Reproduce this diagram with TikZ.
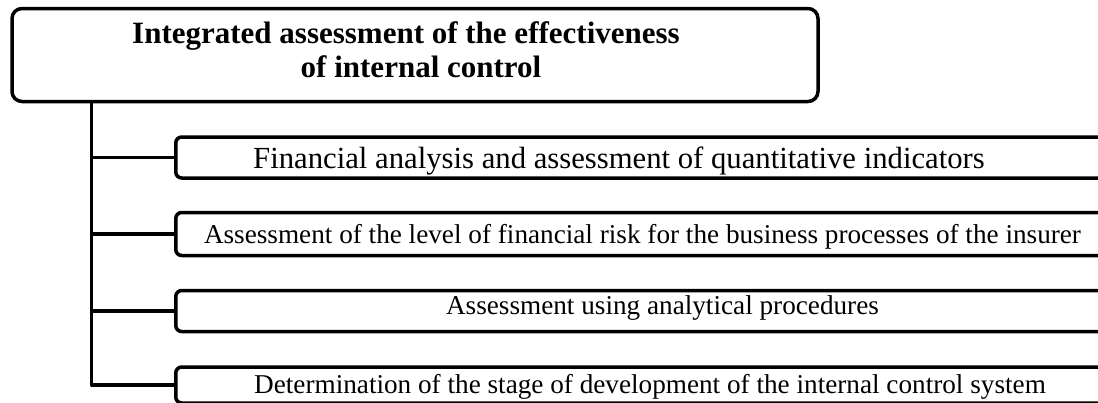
\documentclass[tikz,border=0pt]{standalone}
\usepackage{fontspec}
\setmainfont{Liberation Serif}
\usetikzlibrary{positioning, calc}
\tikzstyle{headbox}=[
  draw,
  line width=3.5pt,
  rounded corners=10pt,
  minimum width=806pt,
  minimum height=93pt,
  inner sep=0pt
]
\tikzstyle{itembox}=[
  draw,
  line width=3.5pt,
  rounded corners=6pt,
  anchor=west,
  minimum width=960pt,
  inner sep=0pt
]
\tikzstyle{headtext}=[
  anchor=base,
  align=center,
  inner sep=0pt,
  font={\bfseries\fontsize{31}{34}\selectfont}
]
\tikzstyle{itemtext}=[
  anchor=base,
  inner sep=0pt,
  font={\fontsize{27.2}{31}\selectfont}
]
\tikzstyle{conn}=[line width=3.5pt, line join=round]

\begin{document}
\begin{tikzpicture}[x=1pt, y=-1pt]

\useasboundingbox (0,0) rectangle (1098,402);
\clip (0,0) rectangle (1098,402);

%% main box
\node[headbox] (head) at (415,55) {};
\node[headtext] (headtxt) at (406,77) {Integrated assessment of the effectiveness\\\hspace*{30pt}of internal control};

%% the four ways
\node[itembox, minimum height=41pt] (fin)   at (174,157.5) {};
\node[itembox, minimum height=43pt] (risk)  at (174,234) {};
\node[itembox, minimum height=41pt] (proc)  at (174,311) {};
\node[itembox, minimum height=36pt] (stage) at (174,385) {};

\node[itemtext, font={\fontsize{30.7}{35}\selectfont}] (fintxt) at (619,168) {Financial analysis and assessment of quantitative indicators};
\node[itemtext] (risktxt)  at (642.5,243) {Assessment of the level of financial risk for the business processes of the insurer};
\node[itemtext] (proctxt)  at (662.5,314) {Assessment using analytical procedures};
\node[itemtext] (stagetxt) at (650,393) {Determination of the stage of development of the internal control system};

%% tree lines
\coordinate (trunk) at (91.5,0);
\draw[conn] (head.south -| trunk) |- (stage.west);
\foreach \b in {fin,risk,proc}
  \draw[conn] (trunk |- \b.west) -- (\b.west);

\end{tikzpicture}
\end{document}
